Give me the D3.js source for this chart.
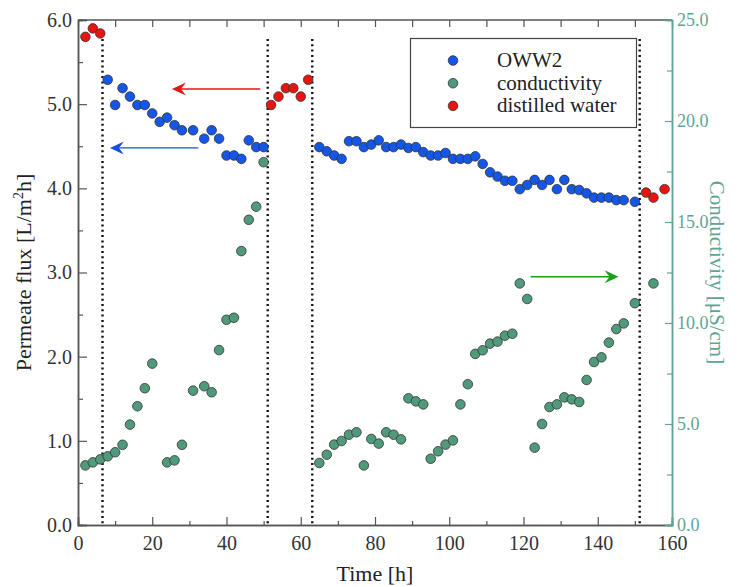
<!DOCTYPE html>
<html lang="en">
<head>
<meta charset="utf-8">
<title>Permeate flux and conductivity</title>
<script src="https://d3js.org/d3.v7.min.js"></script>
<style>
  body { margin: 0; background: #fff; }
</style>
</head>
<body>
<div id="chart"></div>
<script>
// --- data ---
var owwTime = [8,10,12,14,16,18,20,22,24,26,28,31,34,36,38,40,42,44,46,48,50,
  65,67,69,71,73,75,77,79,81,83,85,87,89,91,93,95,97,99,101,103,105,107,109,111,113,115,117,119,121,123,125,127,129,131,133,135,137,139,141,143,145,147,150];
var owwFlux = [5.29,4.99,5.19,5.09,4.99,4.99,4.89,4.79,4.84,4.75,4.69,4.69,4.59,4.69,4.59,4.39,4.39,4.35,4.57,4.49,4.49,
  4.49,4.44,4.39,4.35,4.56,4.56,4.49,4.52,4.57,4.49,4.49,4.52,4.48,4.49,4.43,4.39,4.39,4.42,4.35,4.35,4.35,4.38,4.29,4.19,4.14,4.09,4.09,3.99,4.04,4.10,4.04,4.10,3.99,4.10,3.99,3.98,3.94,3.89,3.89,3.89,3.86,3.86,3.84];

var condTime = [2,4,6,8,10,12,14,16,18,20,24,26,28,31,34,36,38,40,42,44,46,48,50,
  65,67,69,71,73,75,77,79,81,83,85,87,89,91,93,95,97,99,101,103,105,107,109,111,113,115,117,119,121,
  123,125,127,129,131,133,135,137,139,141,143,145,147,150,155];
var condValue = [2.95,3.1,3.25,3.4,3.6,3.97,4.97,5.88,6.77,7.99,3.1,3.2,3.97,6.65,6.87,6.57,8.66,10.16,10.26,13.56,15.11,15.76,17.96,
  3.07,3.48,3.98,4.16,4.47,4.59,2.95,4.26,4.03,4.59,4.47,4.24,6.27,6.12,5.97,3.28,3.65,3.98,4.19,5.97,6.97,8.47,8.65,8.98,9.08,9.37,9.47,11.96,11.19,
  3.83,5.0,5.84,5.97,6.32,6.22,6.09,7.18,8.07,8.30,9.03,9.70,9.98,10.98,11.96];

var waterTime = [2,4,6,52,54,56,58,60,62,153,155,158];
var waterFlux = [5.80,5.90,5.84,4.99,5.09,5.19,5.19,5.09,5.29,3.95,3.89,3.99];

// phase boundaries (h)
var phaseLines = [6.6, 51.1, 63.1, 151.3];

// arrows pointing at the axis each series belongs to
var arrows = [
  {x1: 49.1, x2: 25.3, v: 5.18, axis: "left", color: "#e8140f"},
  {x1: 32.4, x2: 8.6, v: 4.48, axis: "left", color: "#1450e0"},
  {x1: 121.9, x2: 145.6, v: 12.29, axis: "right", color: "#19a019"}
];

var legendLabels = ["OWW2", "conductivity", "distilled water"];
var colors = {oww: "#1457e8", cond: "#4f9a7a", water: "#e8140f"};
var teal = "#5fa595";
var serif = "Liberation Serif";

var width = 743, height = 587;
var margin = {top: 20, right: 71, bottom: 62, left: 78};

var svg = d3.select("#chart").append("svg")
  .attr("width", width).attr("height", height)
  .attr("font-family", serif);

var x = d3.scaleLinear().domain([0, 160]).range([margin.left, width - margin.right]);
var y = d3.scaleLinear().domain([0, 6]).range([height - margin.bottom, margin.top]);
var y2 = d3.scaleLinear().domain([0, 25]).range([height - margin.bottom, margin.top]);

var fmt = d3.format(".1f");

// dotted phase lines
svg.selectAll("line.phase")
  .data(phaseLines).enter().append("line")
  .attr("class", "phase")
  .attr("x1", d => x(d)).attr("x2", d => x(d))
  .attr("y1", 39).attr("y2", y(0))
  .attr("stroke", "#111").attr("stroke-width", 2.4)
  .attr("stroke-dasharray", "2,3.3");

// axes
var xAxis = d3.axisBottom(x).tickValues(d3.range(0, 161, 20)).tickSize(-8).tickPadding(14).tickFormat(d3.format("d"));
var gx = svg.append("g").attr("transform", `translate(0,${y(0)})`).call(xAxis);
svg.append("g").attr("transform", `translate(0,${y(0)})`)
  .call(d3.axisBottom(x).tickValues(d3.range(10, 160, 20)).tickSize(-4).tickFormat(""));
var gxTop = svg.append("g").attr("transform", `translate(0,${y(6)})`)
  .call(d3.axisTop(x).tickValues(d3.range(0, 161, 10)).tickSize(-7).tickFormat(""));

var gy = svg.append("g").attr("transform", `translate(${x(0)},0)`)
  .call(d3.axisLeft(y).tickValues(d3.range(0, 6.01, 1)).tickSize(-9).tickPadding(6).tickFormat(fmt));
svg.append("g").attr("transform", `translate(${x(0)},0)`)
  .call(d3.axisLeft(y).tickValues(d3.range(0.5, 6, 1)).tickSize(-5).tickFormat(""));

var gy2 = svg.append("g").attr("class", "right").attr("transform", `translate(${x(160)},0)`)
  .call(d3.axisRight(y2).tickValues(d3.range(0, 25.01, 5)).tickSize(-7).tickPadding(5).tickFormat(fmt));
svg.append("g").attr("class", "right").attr("transform", `translate(${x(160)},0)`)
  .call(d3.axisRight(y2).tickValues(d3.range(2.5, 25, 5)).tickSize(-5).tickFormat(""));

svg.selectAll("g").attr("font-family", serif);
svg.selectAll(".domain").attr("stroke", "#555").attr("stroke-width", 1.5);
svg.selectAll(".tick line").attr("stroke", "#555").attr("stroke-width", 1.2);
svg.selectAll(".tick text").attr("font-size", 20).attr("fill", "#333")
  .attr("font-family", serif);
gx.selectAll(".tick text").attr("dy", "0.55em");
svg.selectAll("g.right .domain").attr("stroke", teal);
svg.selectAll("g.right .tick line").attr("stroke", teal);
svg.selectAll("g.right .tick text").attr("fill", teal).attr("font-size", 18);
gxTop.select(".domain").attr("d", `M${x(0)},0H${x(160)}`);

// axis titles
svg.append("text")
  .attr("x", x(80)).attr("y", 581)
  .attr("text-anchor", "middle").attr("font-size", 22).attr("fill", "#222")
  .attr("font-family", serif)
  .text("Time [h]");

var ly = svg.append("text")
  .attr("transform", `translate(31,${(y(0) + y(6)) / 2}) rotate(-90)`)
  .attr("text-anchor", "middle").attr("font-size", 22).attr("fill", "#222")
  .attr("font-family", serif);
ly.append("tspan").text("Permeate flux [L/m");
ly.append("tspan").attr("font-size", 14).attr("dy", -8).text("2");
ly.append("tspan").attr("dy", 8).text("h]");

svg.append("text")
  .attr("transform", `translate(710,${(y(0) + y(6)) / 2}) rotate(90)`)
  .attr("text-anchor", "middle").attr("font-size", 21).attr("fill", teal)
  .attr("font-family", serif)
  .text("Conductivity [μS/cm]");

// arrows
arrows.forEach(function(a) {
  var sc = a.axis === "left" ? y : y2;
  var yy = sc(a.v), xa = x(a.x1), xb = x(a.x2);
  var dir = xb < xa ? 1 : -1;
  svg.append("line")
    .attr("x1", xa).attr("x2", xb + dir * 8)
    .attr("y1", yy).attr("y2", yy)
    .attr("stroke", a.color).attr("stroke-width", 1.3);
  svg.append("path")
    .attr("d", `M${xb},${yy} L${xb + dir * 14},${yy - 6.5} L${xb + dir * 9},${yy} L${xb + dir * 14},${yy + 6.5} Z`)
    .attr("fill", a.color);
});

// points
function dots(times, values, scale, color) {
  svg.append("g").selectAll("circle")
    .data(times.map((t, i) => [t, values[i]]))
    .enter().append("circle")
    .attr("cx", d => x(d[0]))
    .attr("cy", d => scale(d[1]))
    .attr("r", 4.8)
    .attr("fill", color)
    .attr("stroke", "#333")
    .attr("stroke-width", 0.8);
}
dots(condTime, condValue, y2, colors.cond);
dots(owwTime, owwFlux, y, colors.oww);
dots(waterTime, waterFlux, y, colors.water);

// legend
var lg = svg.append("g");
lg.append("rect")
  .attr("x", 410.5).attr("y", 38.5).attr("width", 226).attr("height", 89)
  .attr("fill", "#fff").attr("stroke", "#444").attr("stroke-width", 1.2);
var legendColors = [colors.oww, colors.cond, colors.water];
legendLabels.forEach(function(lab, i) {
  var yy = 60.5 + i * 22.7;
  lg.append("circle").attr("cx", 453).attr("cy", yy).attr("r", 4.8)
    .attr("fill", legendColors[i]).attr("stroke", "#333").attr("stroke-width", 0.8);
  lg.append("text").attr("x", 497).attr("y", yy + 6.5)
    .attr("font-size", 21).attr("fill", "#222")
    .attr("font-family", serif).text(lab);
});
</script>
</body>
</html>
